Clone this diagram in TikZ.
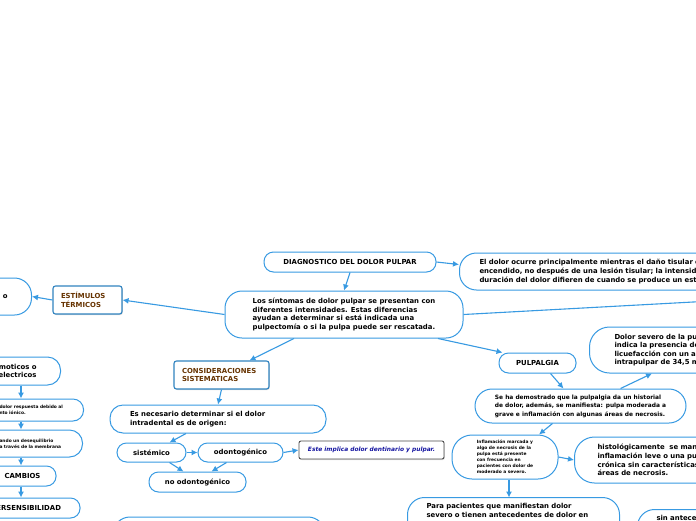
\documentclass[tikz,border=0pt]{standalone}
\usepackage{fontspec}
\setmainfont{DejaVu Sans}
\usetikzlibrary{arrows.meta, positioning, calc, shadows}

\definecolor{mmblue}{RGB}{56,154,226}
\definecolor{mmbrown}{RGB}{102,51,0}
\definecolor{notetext}{RGB}{20,20,160}
\newcommand{\mmtext}{\fontsize{6.9}{8.6}\selectfont\bfseries}
\newcommand{\mmmid}{\fontsize{5.9}{8.5}\selectfont\bfseries}
\newcommand{\mmsmall}{\fontsize{4.4}{6.1}\selectfont\bfseries}

\begin{document}
\begin{tikzpicture}[x=1pt, y=-1pt,
    idea/.style={draw=mmblue, line width=1pt, fill=white, rounded corners=9.5pt, inner sep=0pt, font=\mmtext, align=left},
    idea_big/.style={idea, rounded corners=17pt},
    topic/.style={draw=mmblue!85!black, line width=1.1pt, fill=white, rounded corners=2.5pt, text=mmbrown, font=\mmtext, align=left, inner xsep=8pt, inner ysep=0pt, drop shadow={opacity=0.3, shadow xshift=0.8pt, shadow yshift=-1pt}},
    note/.style={draw=black!70, line width=0.9pt, fill=white, rounded corners=2pt, text=notetext, font=\fontsize{5.9}{7}\selectfont\bfseries\itshape, drop shadow={opacity=0.25, shadow xshift=0.8pt, shadow yshift=-1pt}},
    arrow/.style={-{Latex[length=6pt, width=6pt]}, line width=1.1pt, mmblue},
]
\useasboundingbox (0,0) rectangle (696,520);
\clip (0,0) rectangle (696,520);
\fill[white] (0,0) rectangle (696,520);

\node[idea, align=center, minimum width=172pt, minimum height=20pt] (diag) at (350,262) {DIAGNOSTICO DEL DOLOR PULPAR};
\node[idea_big, minimum width=238pt, minimum height=47pt] (main) at (344,314.5) {Los síntomas de dolor pulpar se presentan con\\diferentes intensidades. Estas diferencias\\ayudan a determinar si está indicada una\\pulpectomía o si la pulpa puede ser rescatada.};
\node[idea_big, anchor=west, text width=290pt, inner xsep=20pt, minimum height=37pt] (eldolor) at (459,271.5) {El dolor ocurre principalmente mientras el daño tisular está\\encendido, no después de una lesión tisular; la intensidad y\\duración del dolor difieren de cuando se produce un estímulo.};
\coordinate (fuera) at (730,300);

% left branch
\node[topic, text width=53pt, minimum height=28pt] (estim) at (87.5,300) {ESTÍMULOS\\TÉRMICOS};
\node[idea_big, anchor=east, align=right, text width=80pt, inner xsep=24pt, minimum height=37pt] (agudo) at (32,296.5) {dolor agudo o};
\node[idea, rounded corners=13pt, anchor=east, align=right, text width=80pt, inner xsep=24pt, minimum height=28pt] (osmo) at (61,371) {osmoticos o\\electricos};
\node[idea, rounded corners=10.5pt, anchor=east, text width=70pt, inner xsep=14pt, minimum height=22pt, font=\mmsmall] (resp) at (84,410) {dolor respuesta debido al\\nto iónico.};
\node[idea, rounded corners=13pt, anchor=east, text width=69pt, inner xsep=14pt, minimum height=27pt, font=\mmsmall] (deseq) at (83,443.5) {ando un desequilibrio\\a través de la membrana};
\node[idea, align=center, minimum width=67pt, minimum height=20pt] (cambios) at (22.5,476) {CAMBIOS};
\node[idea, align=center, minimum width=116pt, minimum height=20pt] (hiper) at (22,508) {HIPERSENSIBILIDAD};
\coordinate (lx) at (21,0);

% middle branch
\node[topic, text width=79pt, minimum height=28pt] (consid) at (221.5,375) {CONSIDERACIONES\\SISTEMATICAS};
\node[idea, rounded corners=13pt, text width=176pt, inner xsep=20pt, minimum height=28pt] (esnec) at (218,419) {Es necesario determinar si el dolor\\intradental es de origen:};
\node[idea, align=center, minimum width=69pt, minimum height=19pt] (sist) at (151.5,452.5) {sistémico};
\node[idea, align=center, minimum width=85pt, minimum height=19pt] (odon) at (240.5,452.5) {odontogénico};
\node[note, minimum width=145pt, minimum height=18pt] (note) at (371.5,450) {Este implica dolor dentinario y pulpar.};
\node[idea, align=center, minimum width=97pt, minimum height=20pt] (noodon) at (197.5,482) {no odontogénico};
\node[idea_big, minimum width=212pt, minimum height=46pt] (abajo) at (219,540) {};

% right branch
\node[idea, align=center, minimum width=77pt, minimum height=20pt] (pulp) at (537.5,363) {PULPALGIA};
\node[idea_big, minimum width=211pt, minimum height=34pt, font=\mmmid] (seha) at (580.5,406) {Se ha demostrado que la pulpalgia da un historial\\de dolor, además, se manifiesta: pulpa moderada a\\grave e inflamación con algunas áreas de necrosis.};
\node[idea_big, rounded corners=20pt, anchor=west, text width=200pt, inner xsep=25pt, minimum height=46pt] (dolsev) at (589,350) {Dolor severo de la pulpa\\indica la presencia de\\licuefacción con un absceso\\intrapulpar de 34,5 mm};
\node[idea_big, rounded corners=20pt, font=\mmsmall, minimum width=106pt, minimum height=44pt] (infl) at (505,457) {Inflamación marcada y\\algo de necrosis de la\\pulpa está presente\\con frecuencia en\\pacientes con dolor de\\moderado a severo.};
\node[idea_big, rounded corners=20pt, anchor=west, text width=250pt, inner xsep=23pt, minimum height=46pt] (histo) at (574,460) {histológicamente\ \ se manifiesta\\inflamación leve o una pulpitis\\crónica sin características de\\áreas de necrosis.};
\node[idea_big, anchor=north west, text width=174pt, inner xsep=19pt, inner ysep=6pt, text depth=30pt] (para) at (407,497) {Para pacientes que manifiestan dolor\\severo o tienen antecedentes de dolor en};
\node[idea_big, anchor=north west, text width=100pt, inner xsep=19pt, inner ysep=6pt, text depth=20pt] (sinant) at (637,509) {sin antecedentes};

% edges top
\draw[arrow] (diag.east) -- ($(eldolor.west)+(0,-7)$);
\draw[arrow] (diag.south) -- (main.north);
\draw[arrow] (main.east) -- (fuera);
\draw[arrow] (main.west) -- (estim.east);
\draw[arrow] (estim.west) -- (agudo.east);

% edges left
\draw[arrow] (osmo.south -| lx) -- (resp.north -| lx);
\draw[arrow] (resp.south -| lx) -- (deseq.north -| lx);
\draw[arrow] (deseq.south -| lx) -- (cambios.north -| lx);
\draw[arrow] (cambios.south -| lx) -- (hiper.north -| lx);

% edges middle
\draw[arrow] ($(main.south)+(-50,0)$) -- ($(consid.north)+(28,0)$);
\draw[arrow] (consid.south) -- (esnec.north);
\draw[arrow] ($(esnec.south)+(-32,0)$) -- ($(sist.north)+(18,0)$);
\draw[arrow] (sist.east) -- (odon.west);
\draw[arrow] (odon.east) -- (note.west);
\draw[arrow] ($(sist.south)+(18,0)$) -- ($(noodon.north)+(-14,0)$);
\draw[arrow] ($(odon.south)+(-14,0)$) -- ($(noodon.north)+(14,0)$);

% edges right
\draw[arrow] ($(main.south)+(94,0)$) -- ($(pulp.north west)+(4,0)$);
\draw[arrow] ($(pulp.south)+(13,0)$) -- ($(seha.north)+(-17,0)$);
\draw[arrow] ($(seha.north)+(40,0)$) -- ($(dolsev.south west)+(63,0)$);
\draw[arrow] ($(seha.south)+(-28,0)$) -- ($(infl.north)+(34,0)$);
\draw[arrow] (infl.east) -- (histo.west);
\draw[arrow] ($(infl.south)+(4,0)$) -- ($(infl.south)+(4,18)$);
\draw[arrow] (para.east |- sinant.west) -- (sinant.west);

\end{tikzpicture}
\end{document}
